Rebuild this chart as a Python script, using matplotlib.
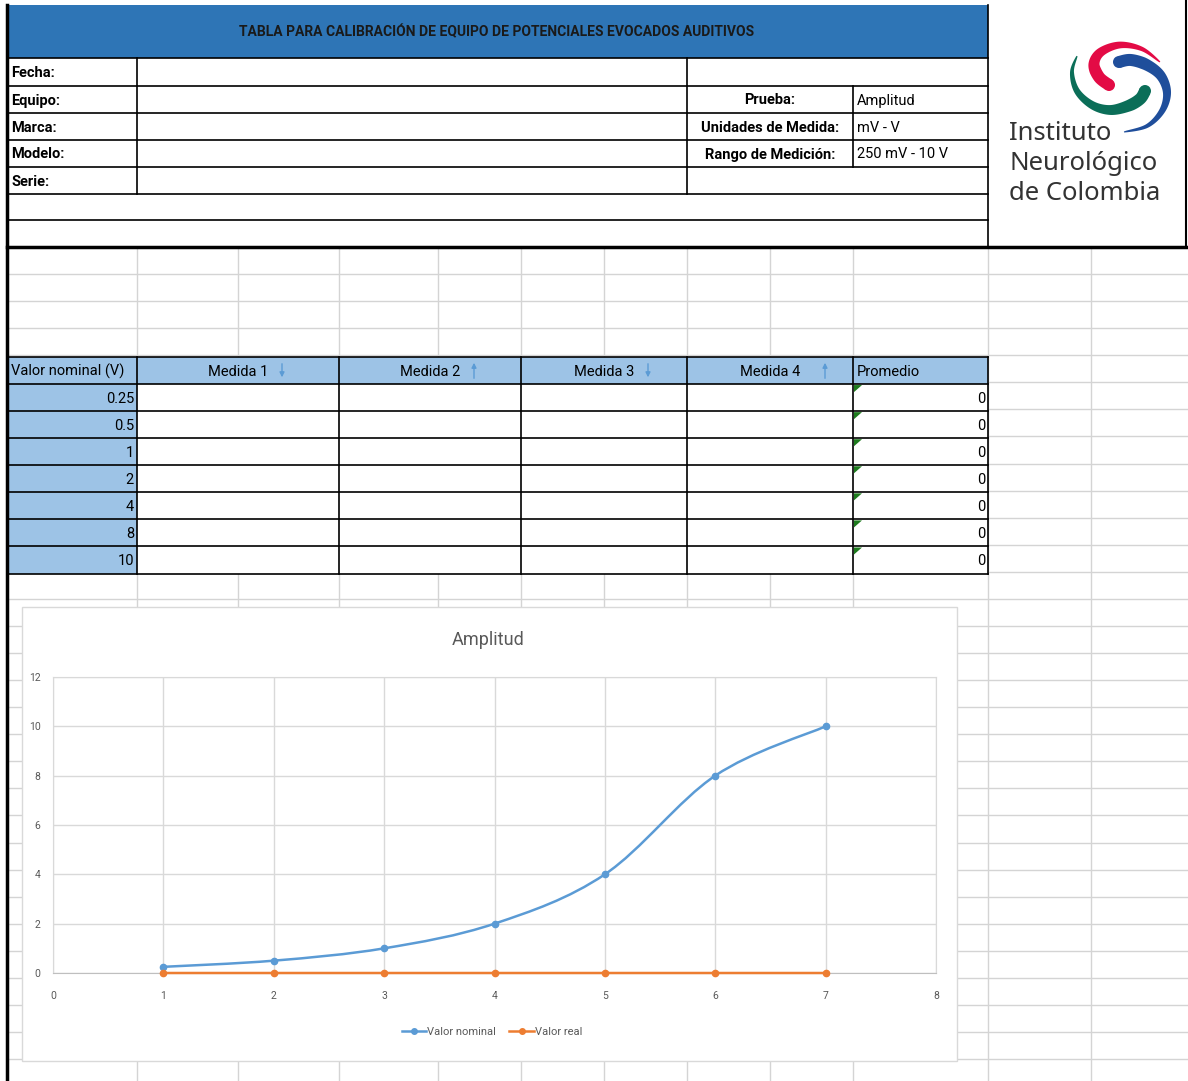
import numpy as np
import matplotlib
matplotlib.use('Agg')
import matplotlib.pyplot as plt
from matplotlib.path import Path
from matplotlib.patches import PathPatch, Rectangle, Polygon, Circle
from matplotlib import font_manager

# datos de la hoja
titulo = 'TABLA PARA CALIBRACIÓN DE EQUIPO DE POTENCIALES EVOCADOS AUDITIVOS'
campos = ['Fecha:', 'Equipo:', 'Marca:', 'Modelo:', 'Serie:']
prueba_etiquetas = ['Prueba:', 'Unidades de Medida:', 'Rango de Medición:']
prueba_valores = ['Amplitud', 'mV - V', '250 mV - 10 V']
columnas = ['Valor nominal (V)', 'Medida 1', 'Medida 2', 'Medida 3', 'Medida 4', 'Promedio']
flechas = [None, 'abajo', 'arriba', 'abajo', 'arriba', None]
valor_nominal = [0.25, 0.5, 1, 2, 4, 8, 10]
promedio = [0, 0, 0, 0, 0, 0, 0]

# datos del grafico
puntos = [1, 2, 3, 4, 5, 6, 7]
titulo_grafico = 'Amplitud'
series = ['Valor nominal', 'Valor real']
logo_texto = ['Instituto', 'Neurológico', 'de Colombia']

nombres = {f.name for f in font_manager.fontManager.ttflist}
fuente = 'Liberation Sans Narrow' if 'Liberation Sans Narrow' in nombres else 'Roboto'
plt.rcParams['font.family'] = [fuente, 'DejaVu Sans']

W, H = 1188, 1081
fig = plt.figure(figsize=(W / 100, H / 100), dpi=100)
ax = fig.add_axes([0, 0, 1, 1])
ax.set_xlim(0, W)
ax.set_ylim(H, 0)
ax.axis('off')

gris = '#D4D4D4'
azul = '#2E75B6'
azul_claro = '#9DC3E6'

# cuadricula de excel
cols_grid = [137, 238, 339, 438, 521, 604, 687, 770, 853, 988, 1091]
for x in cols_grid:
    ax.plot([x, x], [247, H], color=gris, lw=1, zorder=1)
for y in np.arange(247, H, 27.07):
    ax.plot([7, W], [y, y], color=gris, lw=1, zorder=1)

# encabezado
ax.add_patch(Rectangle((7, 5), 981, 53, facecolor=azul, edgecolor='none', zorder=2))
ax.text(497, 32, titulo, ha='center', va='center', fontsize=10, fontweight='bold',
        color='#1A1A1A', zorder=3)
filas = [58, 86, 113, 140, 167, 194, 220]
for y in filas:
    ax.plot([7, 988], [y, y], color='black', lw=1.2, zorder=3)
ax.plot([137, 137], [58, 194], color='black', lw=1.2, zorder=3)
ax.plot([687, 687], [58, 194], color='black', lw=1.2, zorder=3)
ax.plot([853, 853], [86, 167], color='black', lw=1.2, zorder=3)
ax.plot([988, 988], [5, 247], color='black', lw=1.2, zorder=3)
ax.plot([1186, 1186], [0, 247], color='black', lw=1.5, zorder=3)
ax.plot([7, W], [247, 247], color='black', lw=2.5, zorder=4)
ax.plot([7, 7], [5, H], color='black', lw=2.5, zorder=4)

for i, c in enumerate(campos):
    yc = (filas[i] + filas[i + 1]) / 2
    ax.text(11, yc + 1, c, ha='left', va='center', fontsize=10.5, fontweight='bold', zorder=3)
for i, (e, v) in enumerate(zip(prueba_etiquetas, prueba_valores)):
    yc = (filas[i + 1] + filas[i + 2]) / 2
    ax.text(770, yc + 1, e, ha='center', va='center', fontsize=10.5, fontweight='bold', zorder=3)
    ax.text(857, yc + 1, v, ha='left', va='center', fontsize=10.5, zorder=3)


# logo
def catmull(pts, n=16):
    pts = np.asarray(pts, float)
    P = np.vstack([pts[0], pts, pts[-1]])
    out = []
    for i in range(1, len(P) - 2):
        p0, p1, p2, p3 = P[i - 1], P[i], P[i + 1], P[i + 2]
        t = np.linspace(0, 1, n, endpoint=False)[:, None]
        out.append(0.5 * (2 * p1 + (-p0 + p2) * t + (2 * p0 - 5 * p1 + 4 * p2 - p3) * t ** 2
                          + (-p0 + 3 * p1 - 3 * p2 + p3) * t ** 3))
    out.append(P[-2][None])
    return np.vstack(out)


def brazo(pts, wmax, color):
    c = catmull(pts)
    d = np.gradient(c, axis=0)
    nrm = np.column_stack([-d[:, 1], d[:, 0]])
    nrm /= np.linalg.norm(nrm, axis=1)[:, None]
    t = np.linspace(0, 1, len(c))
    w = 1 + (wmax - 1) * np.clip(t / 0.75, 0, 1) ** 0.8
    a = c + nrm * w[:, None] / 2
    b = c - nrm * w[:, None] / 2
    ax.add_patch(Polygon(np.vstack([a, b[::-1]]), closed=True, facecolor=color,
                         edgecolor='none', zorder=5))
    ax.add_patch(Circle(c[-1], wmax / 2, facecolor=color, edgecolor='none', zorder=5))


brazo([(1160, 62), (1142, 49), (1120, 45), (1101, 52), (1094, 64), (1099, 77), (1109, 85)],
      12, '#E30B45')
brazo([(1124, 132), (1147, 126), (1162, 111), (1167, 93), (1161, 76), (1147, 65), (1131, 60),
       (1119, 62)], 12, '#1F4E9B')
brazo([(1077, 56), (1072, 72), (1077, 91), (1092, 105), (1110, 110), (1128, 106), (1140, 99),
       (1145, 91)], 12, '#0B6E58')
for i, s in enumerate(logo_texto):
    ax.text(1009, 133 + i * 30, s, ha='left', va='center', fontsize=18.5, color='#333333',
            family=['Noto Sans', 'DejaVu Sans'], zorder=5)

# tabla de medidas
x_cols = [7, 137, 339, 521, 687, 853, 988]
y_tab = [357 + 27.07 * k for k in range(9)]
ax.add_patch(Rectangle((7, y_tab[0]), 981, y_tab[1] - y_tab[0], facecolor=azul_claro,
                       edgecolor='none', zorder=2))
ax.add_patch(Rectangle((7, y_tab[1]), 130, y_tab[-1] - y_tab[1], facecolor=azul_claro,
                       edgecolor='none', zorder=2))
ax.add_patch(Rectangle((137, y_tab[1]), 851, y_tab[-1] - y_tab[1], facecolor='white',
                       edgecolor='none', zorder=2))
for y in y_tab:
    ax.plot([7, 988], [y, y], color='black', lw=1.2, zorder=3)
for x in x_cols[1:]:
    ax.plot([x, x], [y_tab[0], y_tab[-1]], color='black', lw=1.2, zorder=3)

yc = (y_tab[0] + y_tab[1]) / 2
for i, c in enumerate(columnas):
    if i in (0, 5):
        ax.text(x_cols[i] + 4, yc + 1, c, ha='left', va='center', fontsize=10.5, zorder=3)
    else:
        xm = (x_cols[i] + x_cols[i + 1]) / 2
        ax.text(xm, yc + 1, c, ha='center', va='center', fontsize=10.5, zorder=3)
        xa = xm + (44 if i < 4 else 55)
        if flechas[i] == 'abajo':
            ax.annotate('', xy=(xa, y_tab[1] - 4), xytext=(xa, y_tab[0] + 4),
                        arrowprops=dict(arrowstyle='-|>', color='#5B9BD5', lw=1,
                                        mutation_scale=7), zorder=3)
        else:
            ax.annotate('', xy=(xa, y_tab[0] + 3), xytext=(xa, y_tab[1] - 3),
                        arrowprops=dict(arrowstyle='-|>', color='#5B9BD5', lw=1,
                                        mutation_scale=7), zorder=3)

for k, (v, p) in enumerate(zip(valor_nominal, promedio)):
    ym = (y_tab[k + 1] + y_tab[k + 2]) / 2 + 1
    ax.text(134, ym, f'{v:g}', ha='right', va='center', fontsize=10.5, zorder=3)
    ax.text(985, ym, f'{p:g}', ha='right', va='center', fontsize=10.5, zorder=3)
    y0 = y_tab[k + 1] + 1
    ax.add_patch(Polygon([(854, y0), (862, y0), (854, y0 + 7)], closed=True,
                         facecolor='#1E7B1E', edgecolor='none', zorder=4))

# area del grafico
ax.add_patch(Rectangle((22, 607), 935, 454, facecolor='white', edgecolor='#D9D9D9',
                       lw=1, zorder=6))
ax.text(488, 640, titulo_grafico, ha='center', va='center', fontsize=13, color='#595959',
        zorder=7)

x0, x1, yb, yt = 53, 936, 973, 677
gax = fig.add_axes([x0 / W, 1 - yb / H, (x1 - x0) / W, (yb - yt) / H], zorder=8)
gax.set_facecolor('white')
gax.set_xlim(0, 8)
gax.set_ylim(0, 12)
gax.set_xticks(range(0, 9))
gax.set_yticks(range(0, 13, 2))
gax.grid(True, color='#D9D9D9', lw=1)
gax.set_axisbelow(True)
for s in ['top', 'right', 'left']:
    gax.spines[s].set_color('#D9D9D9')
gax.spines['bottom'].set_color('#BFBFBF')
gax.tick_params(length=0, labelsize=7.5, labelcolor='#595959')
gax.tick_params(axis='x', pad=13)
gax.tick_params(axis='y', pad=9)


def curva_suave(x, y):
    pts = np.column_stack([x, y]).astype(float)
    n = len(pts)
    verts = [pts[0]]
    codes = [Path.MOVETO]
    for i in range(n - 1):
        p0 = pts[max(i - 1, 0)]
        p1 = pts[i]
        p2 = pts[i + 1]
        p3 = pts[min(i + 2, n - 1)]
        verts += [p1 + (p2 - p0) / 6, p2 - (p3 - p1) / 6, p2]
        codes += [Path.CURVE4] * 3
    return Path(verts, codes)


c_nom = '#5B9BD5'
c_real = '#ED7D31'
gax.add_patch(PathPatch(curva_suave(puntos, valor_nominal), facecolor='none',
                        edgecolor=c_nom, lw=1.8, zorder=3, clip_on=False))
gax.add_patch(PathPatch(curva_suave(puntos, promedio), facecolor='none',
                        edgecolor=c_real, lw=1.8, zorder=3, clip_on=False))
gax.plot(puntos, valor_nominal, marker='o', ms=4.5, color=c_nom, linestyle='none',
         zorder=4, clip_on=False)
gax.plot(puntos, promedio, marker='o', ms=4.5, color=c_real, linestyle='none',
         zorder=4, clip_on=False)
l1, = gax.plot([], [], marker='o', ms=4, color=c_nom, lw=1.8)
l2, = gax.plot([], [], marker='o', ms=4, color=c_real, lw=1.8)
gax.legend([l1, l2], series, loc='center', bbox_to_anchor=(492 / W, 1 - 1032 / H),
           bbox_transform=fig.transFigure, ncol=2, frameon=False, fontsize=8,
           labelcolor='#595959', handlelength=2.2, handletextpad=0.1, columnspacing=1.2)

fig.savefig('out.png', dpi=100)
